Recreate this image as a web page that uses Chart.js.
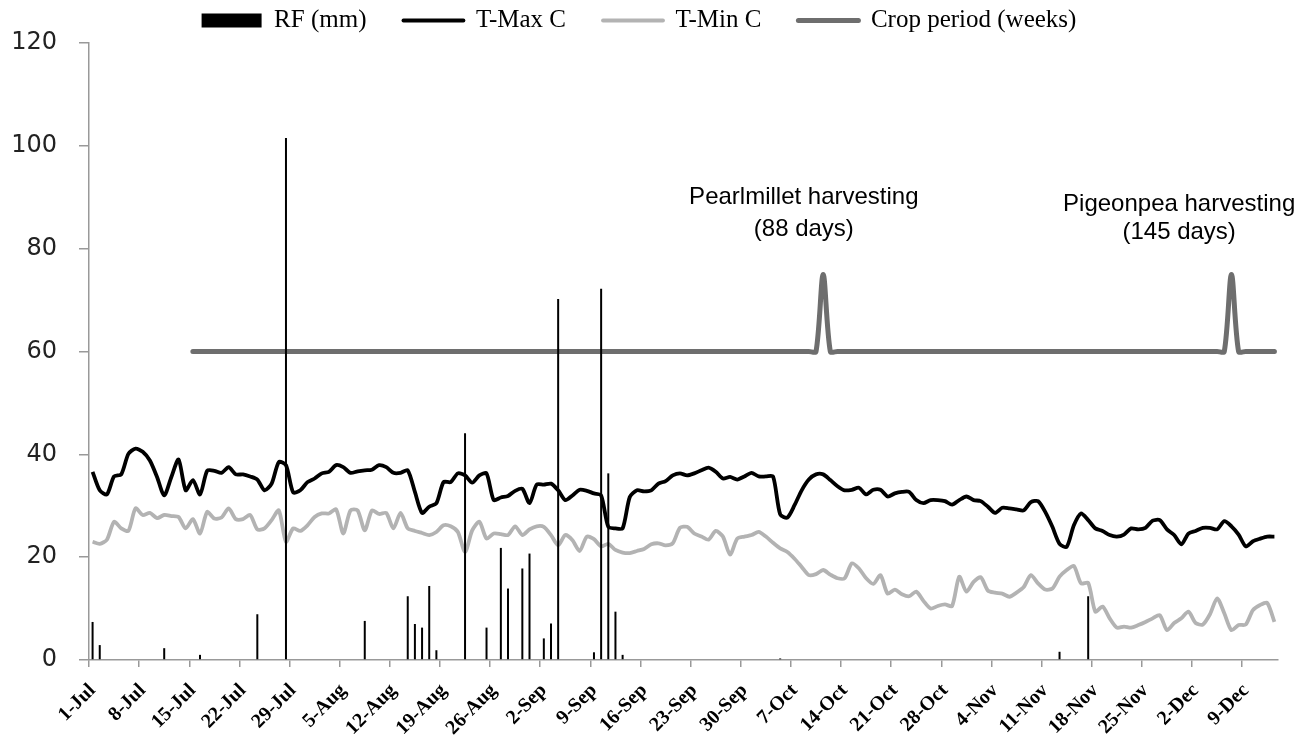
<!DOCTYPE html>
<html><head><meta charset="utf-8">
<script src="https://cdn.jsdelivr.net/npm/chart.js@4.4.1/dist/chart.umd.min.js"></script>
<style>html,body{margin:0;padding:0;background:#fff}#wrap{width:1314px;height:740px}</style>
</head><body><div id="wrap"><canvas id="c" width="1314" height="740"></canvas></div>
<script>
// ---- categories (daily, 1-Jul .. 13-Dec) ----
const months = ['Jul','Aug','Sep','Oct','Nov','Dec'];
const monthDays = [31,31,30,31,30,13];
const categories = [];
months.forEach((m,k)=>{ for(let d=1; d<=monthDays[k]; d++) categories.push(d+'-'+m); });

const tickLabels = ['1-Jul','8-Jul','15-Jul','22-Jul','29-Jul','5-Aug','12-Aug','19-Aug','26-Aug','2-Sep','9-Sep','16-Sep','23-Sep','30-Sep','7-Oct','14-Oct','21-Oct','28-Oct','4-Nov','11-Nov','18-Nov','25-Nov','2-Dec','9-Dec'];

// ---- series ----
const rainfall = [
7.4,2.9,0,0,0,0,0,0,0,0, 2.3,0,0,0,0,1.0,0,0,0,0,
0,0,0,8.9,0,0,0,101.5,0,0, 0,0,0,0,0,0,0,0,7.6,0,
0,0,0,0,12.4,7.0,6.3,14.4,1.9,0, 0,0,44.1,0,0,6.3,0,21.8,13.9,0,
17.8,20.7,0,4.2,7.1,70.2,0,0,0,0, 1.5,72.2,36.3,9.4,1.0,0,0,0,0,0,
0,0,0,0,0,0,0,0,0,0, 0,0,0,0,0,0,0.3,0,0,0,
0,0,0,0,0,0,0,0,0,0, 0,0,0,0,0,0,0,0,0,0,
0,0,0,0,0,0,0,0,0,0, 0,0,0,0,0,1.6,0,0,0,12.4,
0,0,0,0,0,0,0,0,0,0, 0,0,0,0,0,0,0,0,0,0,
0,0,0,0,0,0];

const tMax = [
36.6,33.0,32.2,35.7,36.1,40.1,41.1,40.5,38.8,35.6, 32.0,35.6,39.0,33.0,35.0,32.2,36.8,36.8,36.4,37.5,
36.1,36.1,35.7,35.1,33.0,34.3,38.5,37.9,32.6,33.0, 34.6,35.3,36.3,36.6,37.9,37.5,36.4,36.7,36.9,37.0,
37.9,37.5,36.4,36.4,36.9,32.7,28.6,29.8,30.5,34.6, 34.6,36.3,35.9,34.5,35.9,36.3,31.1,31.6,31.9,32.9,
33.3,30.5,34.1,34.1,34.3,33.0,31.1,32.0,33.1,32.9, 32.4,32.0,25.9,25.6,25.6,31.7,33.0,32.8,33.0,34.3,
34.8,35.9,36.3,35.9,36.3,36.9,37.4,36.6,35.3,35.6, 35.1,35.7,36.4,35.7,35.7,35.7,28.3,27.7,30.1,33.0,
35.1,36.1,36.1,35.0,33.8,33.0,33.1,33.5,32.2,33.1, 33.1,31.8,32.4,32.7,32.7,31.1,30.5,31.1,31.1,30.9,
30.2,31.1,31.8,31.1,30.9,29.8,28.6,29.6,29.5,29.3, 29.1,30.7,30.9,28.8,25.9,22.6,22.0,26.2,28.5,27.2,
25.6,25.1,24.3,24.0,24.4,25.6,25.4,25.7,27.1,27.2, 25.4,24.3,22.5,24.6,25.1,25.7,25.7,25.4,27.0,26.0,
24.4,22.1,23.1,23.6,24.0,24.0];

const tMin = [
23.0,22.6,23.4,26.9,25.6,25.1,29.5,28.2,28.6,27.6, 28.2,28.0,27.8,25.6,27.4,24.6,28.8,27.5,27.7,29.5,
27.4,27.4,28.2,25.4,25.6,27.2,29.1,23.0,25.6,25.1, 26.2,27.8,28.5,28.5,29.3,24.6,29.1,29.1,25.2,29.1,
28.4,28.6,25.6,28.6,25.6,25.1,24.7,24.3,24.9,26.2, 26.0,24.9,21.0,25.2,26.9,23.6,24.6,24.5,24.3,26.0,
24.3,25.4,26.0,25.9,24.3,22.3,24.3,23.3,21.2,24.0, 23.5,22.1,22.6,21.4,20.9,20.8,21.2,21.6,22.5,22.7,
22.3,22.7,25.7,25.9,24.6,24.0,23.4,25.1,24.0,20.5, 23.6,24.0,24.3,24.9,24.0,22.8,21.7,21.0,19.7,18.1,
16.5,16.7,17.5,16.6,15.9,15.9,18.8,17.8,15.9,14.8, 16.5,12.9,13.7,12.8,12.4,13.3,11.5,10.0,10.5,10.8,
10.5,16.2,13.3,15.2,16.1,13.5,13.1,12.9,12.3,13.1, 14.2,16.5,14.9,13.7,13.9,16.2,17.5,18.3,14.9,15.0,
9.4,10.4,8.1,6.3,6.5,6.3,6.8,7.4,8.1,8.7, 5.8,7.2,8.1,9.4,7.2,6.9,8.9,12.0,9.1,5.8,
6.8,6.9,9.7,10.7,11.1,7.4];

const cropPeriod = [
null,null,null,null,null,null,null,null,null,null, null,null,null,null,60,60,60,60,60,60,
60,60,60,60,60,60,60,60,60,60, 60,60,60,60,60,60,60,60,60,60,
60,60,60,60,60,60,60,60,60,60, 60,60,60,60,60,60,60,60,60,60,
60,60,60,60,60,60,60,60,60,60, 60,60,60,60,60,60,60,60,60,60,
60,60,60,60,60,60,60,60,60,60, 60,60,60,60,60,60,60,60,60,60,
60,60,75,60,60,60,60,60,60,60, 60,60,60,60,60,60,60,60,60,60,
60,60,60,60,60,60,60,60,60,60, 60,60,60,60,60,60,60,60,60,60,
60,60,60,60,60,60,60,60,60,60, 60,60,60,60,60,60,60,60,60,75,
60,60,60,60,60,60];

const yTicks = [0,20,40,60,80,100,120];

// annotations: x in category index units, y in axis units
const notes = [
  {lines:['Pearlmillet harvesting','(88 days)'], x:99.3, y:[90.0,83.8]},
  {lines:['Pigeonpea harvesting','(145 days)'], x:151.7, y:[88.6,83.2]}
];

const notePlugin = {
  id:'notes',
  afterDatasetsDraw(chart){
    const {ctx, scales:{x, y}} = chart;
    ctx.save();
    ctx.font = '24px "Liberation Sans", Arial, sans-serif';
    ctx.fillStyle = '#000';
    ctx.textAlign = 'center';
    ctx.textBaseline = 'middle';
    notes.forEach(n=>{
      const px = x.getPixelForValue(n.x);
      n.lines.forEach((t,i)=> ctx.fillText(t, px, y.getPixelForValue(n.y[i])));
    });
    ctx.restore();
  }
};

new Chart(document.getElementById('c'), {
  type:'bar',
  data:{
    labels: categories,
    datasets:[
      {type:'bar', label:'RF (mm)', data:rainfall, backgroundColor:'#000', borderWidth:0,
       inflateAmount:0, barThickness:2, pointStyle:'rect', order:0},
      {type:'line', label:'T-Max C', data:tMax, borderColor:'#000', borderWidth:3.8,
       pointRadius:0, pointBorderWidth:3.8, pointBorderColor:'#000', pointStyle:'line',
       tension:0.25, borderJoinStyle:'round', order:1},
      {type:'line', label:'T-Min C', data:tMin, borderColor:'#b3b3b3', borderWidth:3.8,
       pointRadius:0, pointBorderWidth:3.8, pointBorderColor:'#b3b3b3', pointStyle:'line',
       tension:0.25, borderJoinStyle:'round', order:2},
      {type:'line', label:'Crop period (weeks)', data:cropPeriod, borderColor:'#6e6e6e', borderWidth:5,
       pointRadius:0, pointBorderWidth:5, pointBorderColor:'#6e6e6e', pointStyle:'line',
       tension:0.3, borderCapStyle:'round', borderJoinStyle:'round', order:3}
    ]
  },
  options:{
    responsive:false, animation:false, devicePixelRatio:1,
    layout:{padding:{top:-29, right:36, left:0, bottom:0}},
    plugins:{
      tooltip:{enabled:false},
      legend:{
        display:true, position:'top',
        labels:{
          usePointStyle:true, pointStyleWidth:60, boxHeight:14, padding:37,
          color:'#000', font:{family:'"Liberation Serif", "Times New Roman", serif', size:25},
          generateLabels:(chart)=>{
            const items = Chart.defaults.plugins.legend.labels.generateLabels(chart);
            items.forEach(it=>{ if (it.pointStyle === 'line') it.lineCap = 'round'; });
            return items;
          }
        }
      }
    },
    scales:{
      x:{
        type:'category', offset:true,
        grid:{offset:true, drawOnChartArea:false, drawTicks:true, tickLength:7, lineWidth:1.5,
              color:(c)=> (c.index % 7 === 0) ? '#999' : 'rgba(0,0,0,0)'},
        border:{color:'#999', width:1.5},
        ticks:{autoSkip:false, maxRotation:45, minRotation:45, padding:12, color:'#000',
               font:{family:'"Liberation Serif", "Times New Roman", serif', size:20, weight:'bold'},
               callback:(v,i)=> tickLabels.includes(categories[i]) ? categories[i] : ''},
        afterFit:(s)=>{ s.height = 80; }
      },
      y:{
        min:0, max:120,
        afterBuildTicks:(s)=>{ s.ticks = yTicks.map(v=>({value:v})); },
        grid:{drawOnChartArea:false, drawTicks:true, tickLength:10, color:'#999', lineWidth:1.5},
        border:{color:'#999', width:1.5},
        ticks:{padding:22, color:'#222', font:{family:'"DejaVu Sans", sans-serif', size:24}},
        afterFit:(s)=>{ s.width = 89; }
      }
    }
  },
  plugins:[notePlugin]
});
</script>
</body></html>
